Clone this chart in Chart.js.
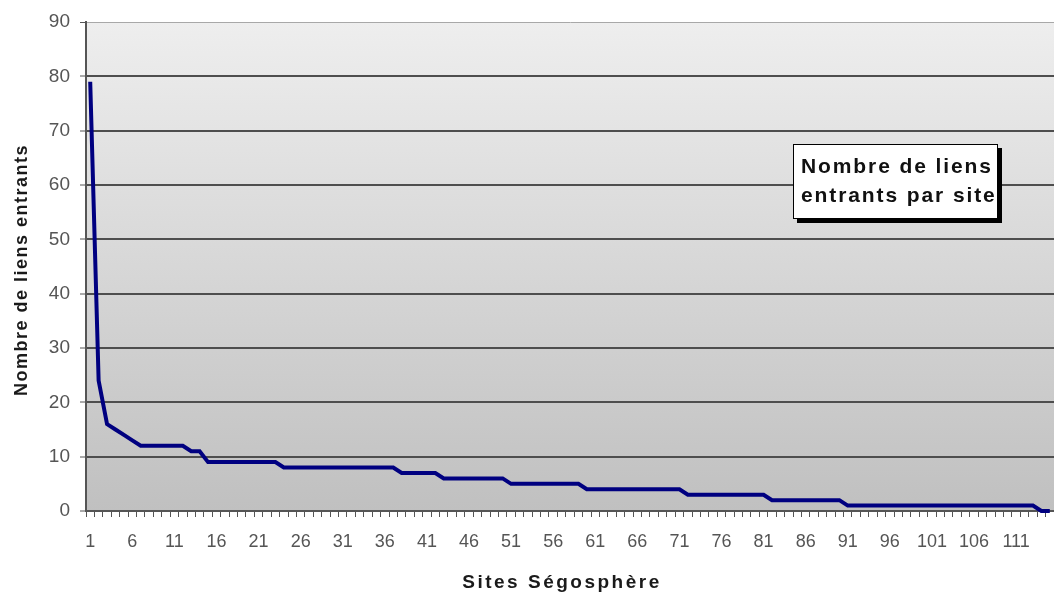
<!DOCTYPE html>
<html>
<head>
<meta charset="utf-8">
<script src="https://cdn.jsdelivr.net/npm/chart.js@4/dist/chart.umd.min.js"></script>
<style>
    html, body { margin: 0; padding: 0; background: #fff; }
    #wrap { width: 1054px; height: 592px; position: relative; }
</style>
</head>
<body>
<div id="wrap"><canvas id="linksChart"></canvas></div>
<script>
// Sites (x categories), 115 of them
const siteLabels = [
    1, 2, 3, 4, 5, 6, 7, 8, 9, 10, 11, 12, 13, 14, 15, 16, 17, 18, 19, 20,
    21, 22, 23, 24, 25, 26, 27, 28, 29, 30, 31, 32, 33, 34, 35, 36, 37, 38, 39, 40,
    41, 42, 43, 44, 45, 46, 47, 48, 49, 50, 51, 52, 53, 54, 55, 56, 57, 58, 59, 60,
    61, 62, 63, 64, 65, 66, 67, 68, 69, 70, 71, 72, 73, 74, 75, 76, 77, 78, 79, 80,
    81, 82, 83, 84, 85, 86, 87, 88, 89, 90, 91, 92, 93, 94, 95, 96, 97, 98, 99, 100,
    101, 102, 103, 104, 105, 106, 107, 108, 109, 110, 111, 112, 113, 114, 115
];

// Nombre de liens entrants par site
const inboundLinks = [
    79, 24, 16, 15, 14, 13, 12, 12, 12, 12, 12, 12, 11, 11, 9, 9, 9, 9, 9, 9,
    9, 9, 9, 8, 8, 8, 8, 8, 8, 8, 8, 8, 8, 8, 8, 8, 8, 7, 7, 7,
    7, 7, 6, 6, 6, 6, 6, 6, 6, 6, 5, 5, 5, 5, 5, 5, 5, 5, 5, 4,
    4, 4, 4, 4, 4, 4, 4, 4, 4, 4, 4, 3, 3, 3, 3, 3, 3, 3, 3, 3,
    3, 2, 2, 2, 2, 2, 2, 2, 2, 2, 1, 1, 1, 1, 1, 1, 1, 1, 1, 1,
    1, 1, 1, 1, 1, 1, 1, 1, 1, 1, 1, 1, 1, 0, 0
];

const yMax = 90;
const yStep = 10;
const boxLines = ['Nombre de liens', 'entrants par site'];

const FONT = "'Liberation Sans', Arial, sans-serif";

// grey gradient behind the plot
const plotBackground = {
    id: 'plotBackground',
    beforeDraw(chart) {
        const {ctx, chartArea: a} = chart;
        const g = ctx.createLinearGradient(0, a.top, 0, a.bottom);
        g.addColorStop(0, '#eeeeee');
        g.addColorStop(1, '#c0c0c0');
        ctx.save();
        ctx.fillStyle = g;
        ctx.fillRect(a.left, a.top, a.right - a.left, a.bottom - a.top);
        ctx.restore();
    }
};

// axis titles + the boxed caption
const annotations = {
    id: 'annotations',
    afterDraw(chart) {
        const ctx = chart.ctx;
        ctx.save();
        ctx.fillStyle = '#1a1a1a';
        ctx.font = 'bold 19px ' + FONT;
        ctx.letterSpacing = '2.5px';
        ctx.textAlign = 'center';
        ctx.textBaseline = 'alphabetic';
        ctx.fillText('Sites Ségosphère', 562, 588);

        ctx.font = 'bold 18px ' + FONT;
        ctx.letterSpacing = '1.5px';
        ctx.translate(27, 270);
        ctx.rotate(-Math.PI / 2);
        ctx.fillText('Nombre de liens entrants', 0, 0);
        ctx.restore();

        // caption box with drop shadow
        ctx.save();
        ctx.fillStyle = '#000';
        ctx.fillRect(797, 148, 205, 75);
        ctx.fillStyle = '#fff';
        ctx.fillRect(793, 144, 205, 75);
        ctx.strokeStyle = '#000';
        ctx.lineWidth = 1;
        ctx.strokeRect(793.5, 144.5, 204, 74);
        ctx.fillStyle = '#111';
        ctx.font = 'bold 21px ' + FONT;
        ctx.letterSpacing = '1.9px';
        ctx.textAlign = 'left';
        ctx.fillText(boxLines[0], 801, 173);
        ctx.fillText(boxLines[1], 801, 202);
        ctx.restore();
    }
};

const ctx = document.getElementById('linksChart').getContext('2d');
new Chart(ctx, {
    type: 'line',
    data: {
        labels: siteLabels,
        datasets: [{
            data: inboundLinks,
            borderColor: '#000080',
            borderWidth: 4,
            pointRadius: 0,
            tension: 0,
            fill: false,
            clip: false
        }]
    },
    options: {
        responsive: true,
        maintainAspectRatio: false,
        animation: false,
        layout: { padding: { top: 22, left: 0, right: 0, bottom: 0 } },
        plugins: {
            legend: { display: false },
            tooltip: { enabled: false }
        },
        scales: {
            x: {
                type: 'category',
                offset: true,
                afterFit(scale) {
                    scale.height = 81;
                    // plot runs right up to the edge of the picture
                    scale.paddingLeft = 0;
                    scale.paddingRight = 0;
                },
                grid: {
                    offset: true,
                    drawOnChartArea: false,
                    drawTicks: true,
                    tickLength: 6,
                    tickColor: '#555',
                    tickWidth: 1
                },
                border: { color: '#555', width: 2 },
                ticks: {
                    autoSkip: false,
                    maxRotation: 0,
                    padding: 14,
                    color: '#555',
                    font: { family: FONT, size: 18 },
                    callback: (val, i) => (i % 5 === 0 ? siteLabels[i] : '')
                }
            },
            y: {
                min: 0,
                max: yMax,
                afterFit(scale) { scale.width = 86; },
                grid: {
                    color: c => (c.tick && c.tick.value === yMax ? '#a8a8a8' : '#4e4e4e'),
                    lineWidth: c => (c.tick && c.tick.value === yMax ? 1 : 2),
                    tickLength: 6,
                    tickColor: '#555',
                    tickWidth: 1
                },
                border: { color: '#555', width: 2 },
                ticks: {
                    stepSize: yStep,
                    padding: 10,
                    color: '#555',
                    font: { family: FONT, size: 19 }
                }
            }
        }
    },
    plugins: [plotBackground, annotations]
});
</script>
</body>
</html>
